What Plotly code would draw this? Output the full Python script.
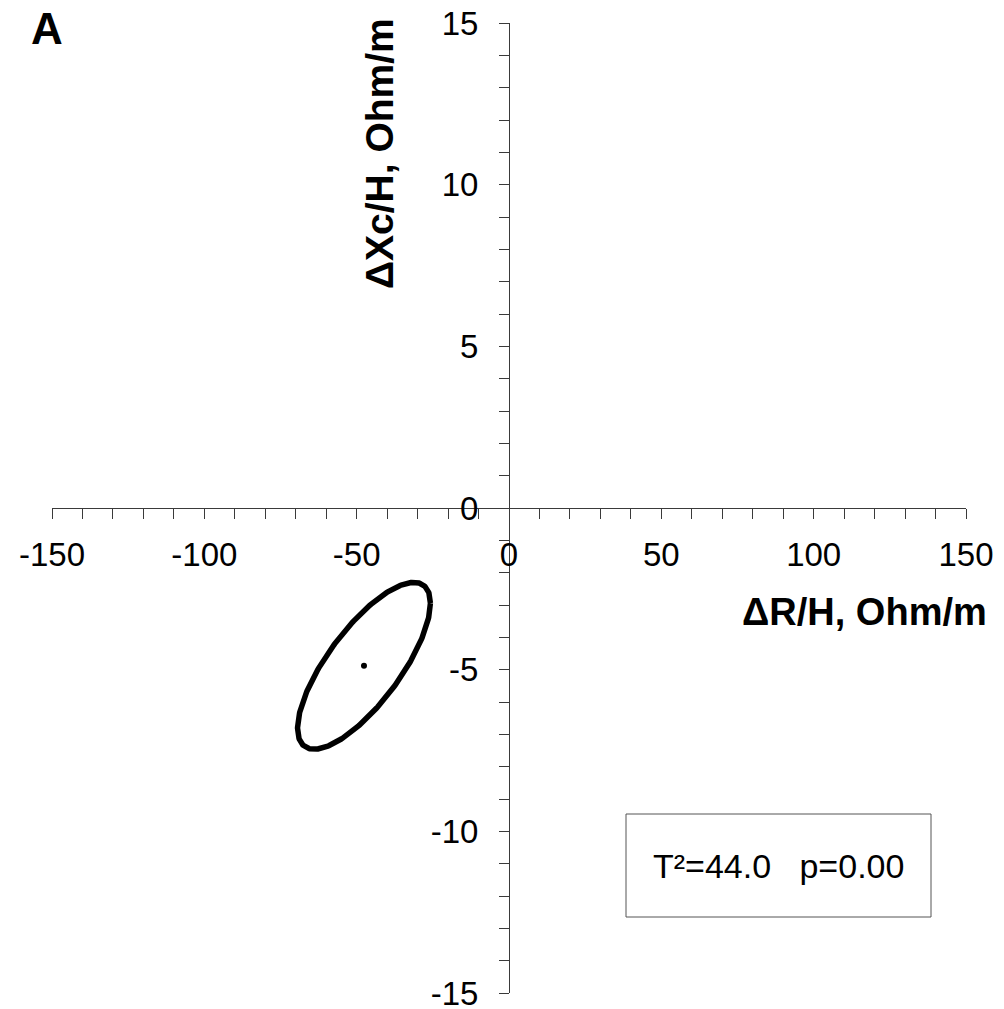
import numpy as np
import plotly.graph_objects as go

# ---- data ----
x_range = [-150, 150]
y_range = [-15, 15]
x_major_ticks = [-150, -100, -50, 0, 50, 100, 150]
x_tick_labels = ["-150", "-100", "-50", "0", "50", "100", "150"]
y_major_ticks = [-15, -10, -5, 0, 5, 10, 15]
y_tick_labels = ["-15", "-10", "-5", "0", "5", "10", "15"]

# confidence ellipse
ellipse_center = [-47.6, -4.88]      # mean dR/H, mean dXc/H
ellipse_half_extent = [21.8, 2.58]   # half-width in x, half-height in y
ellipse_corr = 0.75                  # correlation (tilt)

stat_text = "T²=44.0&nbsp;&nbsp;&nbsp;p=0.00"
x_title = "ΔR/H, Ohm/m"
y_title = "ΔXc/H, Ohm/m"
panel_label = "A"

# ---- build ellipse outline from its parameters ----
t = np.linspace(0, 2 * np.pi, 361)
cx, cy = ellipse_center
hx, hy = ellipse_half_extent
r = ellipse_corr
ex = cx + hx * np.cos(t)
ey = cy + hy * (r * np.cos(t) + np.sqrt(1 - r ** 2) * np.sin(t))

FONT = "Liberation Sans, Arial, sans-serif"

fig = go.Figure()
fig.add_trace(go.Scatter(x=ex, y=ey, mode="lines",
                         line=dict(color="black", width=5.5),
                         hoverinfo="skip", showlegend=False))
fig.add_trace(go.Scatter(x=[cx], y=[cy], mode="markers",
                         marker=dict(color="black", size=6),
                         showlegend=False))

W, H = 1004, 1009
ml, mr, mt, mb = 52, 38, 23, 16
pw, ph = W - ml - mr, H - mt - mb


def px(xp):
    return (xp - ml) / pw


def py(yp):
    return (H - mb - yp) / ph


axis_color = "#3a3a3a"
fig.update_layout(
    width=W, height=H,
    margin=dict(l=ml, r=mr, t=mt, b=mb, pad=0),
    paper_bgcolor="white", plot_bgcolor="white",
    font=dict(family=FONT, color="black"),
    xaxis=dict(range=x_range, anchor="free", position=0.5,
               tickvals=x_major_ticks, ticktext=x_tick_labels,
               ticks="outside", ticklen=10,
               tickwidth=1, tickcolor=axis_color,
               showline=True, linecolor=axis_color, linewidth=1,
               showgrid=False, zeroline=False,
               tickfont=dict(size=33, family=FONT, color="black"),
               ticklabelstandoff=7, ticklabeloverflow="allow",
               minor=dict(dtick=10, ticks="outside", ticklen=10,
                          tickcolor=axis_color, tickwidth=1, showgrid=False),
               automargin=False, fixedrange=True),
    yaxis=dict(range=y_range, anchor="free", position=0.5,
               tickvals=y_major_ticks, ticktext=y_tick_labels,
               ticks="outside", ticklen=10,
               tickwidth=1, tickcolor=axis_color,
               showline=True, linecolor=axis_color, linewidth=1,
               showgrid=False, zeroline=False,
               tickfont=dict(size=33, family=FONT, color="black"),
               ticklabelstandoff=14, ticklabeloverflow="allow",
               minor=dict(dtick=1, ticks="outside", ticklen=10,
                          tickcolor=axis_color, tickwidth=1, showgrid=False),
               automargin=False, fixedrange=True),
    showlegend=False,
)

# statistics box
fig.add_shape(type="rect", xref="paper", yref="paper",
              x0=px(626), x1=px(931), y0=py(917), y1=py(814),
              line=dict(color="#555555", width=1), fillcolor="rgba(0,0,0,0)")

fig.add_annotation(xref="paper", yref="paper", x=px(778), y=py(866),
                   text=stat_text, showarrow=False,
                   xanchor="center", yanchor="middle",
                   font=dict(size=34, family=FONT, color="black"))

fig.add_annotation(xref="paper", yref="paper", x=px(989), y=py(612),
                   text="<b>" + x_title + "</b>", showarrow=False,
                   xanchor="right", yanchor="middle",
                   font=dict(size=38, family=FONT, color="black"))

fig.add_annotation(xref="paper", yref="paper", x=px(380), y=py(154),
                   text="<b>" + y_title + "</b>", showarrow=False,
                   textangle=-90, xanchor="center", yanchor="middle",
                   font=dict(size=39, family=FONT, color="black"))

fig.add_annotation(xref="paper", yref="paper", x=px(47), y=py(29),
                   text="<b>" + panel_label + "</b>", showarrow=False,
                   xanchor="center", yanchor="middle",
                   font=dict(size=44, family=FONT, color="black"))

fig.write_html("out.html",
               config={"displayModeBar": False},
               post_script="document.body.style.margin='0';"
                           "document.body.style.overflow='hidden';")
